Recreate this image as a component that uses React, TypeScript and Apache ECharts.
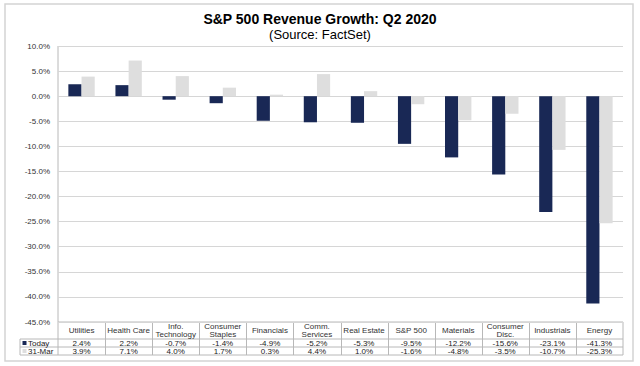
import React, { useEffect, useRef } from "react";
import * as echarts from "echarts";

const categories = [
  "Utilities",
  "Health Care",
  "Info.\nTechnology",
  "Consumer\nStaples",
  "Financials",
  "Comm.\nServices",
  "Real Estate",
  "S&P 500",
  "Materials",
  "Consumer\nDisc.",
  "Industrials",
  "Energy",
];
const todayValues = [2.4, 2.2, -0.7, -1.4, -4.9, -5.2, -5.3, -9.5, -12.2, -15.6, -23.1, -41.3];
const mar31Values = [3.9, 7.1, 4.0, 1.7, 0.3, 4.4, 1.0, -1.6, -4.8, -3.5, -10.7, -25.3];
const seriesNames = ["Today", "31-Mar"];
const titleText = "S&P 500 Revenue Growth: Q2 2020";
const subtitleText = "(Source: FactSet)";

const NAVY = "#192855";
const LIGHT = "#dedede";
const FONT = "Liberation Sans, Arial, sans-serif";
const TABLE_LINE = "#b8b8b8";

export default function App() {
  const ref = useRef<HTMLDivElement>(null);
  useEffect(() => {
    document.body.style.margin = "0";
    if (!ref.current) return;
    const chart = echarts.init(ref.current, undefined, { renderer: "svg" });

    const gl = 58;
    const gr = 17;
    const gt = 46;
    const gb = 322;
    const gw = 640 - gl - gr;
    const colW = gw / categories.length;
    const rowTop = 339;
    const rowH = 8;
    const tableBottom = rowTop + rowH * 2;

    const fmt = (v: number) => v.toFixed(1) + "%";

    const graphics: any[] = [
      {
        type: "rect",
        shape: { x: 5, y: 4, width: 628, height: 357 },
        style: { fill: "none", stroke: "#d4d4d4", lineWidth: 1.5 },
        silent: true,
      },
      {
        type: "line",
        shape: { x1: gl, y1: gt, x2: gl, y2: tableBottom },
        style: { stroke: TABLE_LINE, lineWidth: 1 },
      },
      {
        type: "line",
        shape: { x1: gl + gw, y1: gb, x2: gl + gw, y2: tableBottom },
        style: { stroke: TABLE_LINE, lineWidth: 1 },
      },
      {
        type: "line",
        shape: { x1: 20, y1: rowTop, x2: 20, y2: tableBottom },
        style: { stroke: TABLE_LINE, lineWidth: 1 },
      },
    ];
    for (let r = 0; r <= 2; r++) {
      const y = rowTop + r * rowH;
      graphics.push({
        type: "line",
        shape: { x1: 20, y1: y, x2: gl + gw, y2: y },
        style: { stroke: TABLE_LINE, lineWidth: 1 },
      });
    }
    graphics.push({
      type: "line",
      shape: { x1: gl, y1: gb, x2: gl + gw, y2: gb },
      style: { stroke: TABLE_LINE, lineWidth: 1 },
    });
    for (let k = 1; k < categories.length; k++) {
      const x = Math.round(gl + k * colW) + 0.5;
      graphics.push({
        type: "line",
        shape: { x1: x, y1: gb, x2: x, y2: tableBottom },
        style: { stroke: TABLE_LINE, lineWidth: 1 },
      });
    }
    const colors = [NAVY, LIGHT];
    seriesNames.forEach((name, i) => {
      const cy = rowTop + i * rowH + rowH / 2;
      graphics.push({
        type: "rect",
        shape: { x: 22.5, y: cy - 2, width: 4, height: 4 },
        style: { fill: colors[i] },
      });
      graphics.push({
        type: "text",
        x: 28,
        y: cy,
        style: {
          text: name,
          font: `8px ${FONT}`,
          fill: "#222",
          verticalAlign: "middle",
          align: "left",
        },
      });
    });

    const rowAxis = (vals: number[], margin: number) => ({
      type: "category",
      data: vals.map(fmt),
      position: "bottom",
      gridIndex: 0,
      axisLine: { show: false },
      axisTick: { show: false },
      splitLine: { show: false },
      axisLabel: {
        interval: 0,
        margin,
        verticalAlign: "middle",
        fontSize: 8,
        fontFamily: FONT,
        color: "#222",
      },
    });

    chart.setOption({
      animation: false,
      backgroundColor: "#ffffff",
      title: {
        text: titleText,
        subtext: subtitleText,
        left: "center",
        top: 7,
        itemGap: 2,
        textStyle: { fontSize: 14, fontWeight: "bold", fontFamily: FONT, color: "#000" },
        subtextStyle: { fontSize: 13, fontFamily: FONT, color: "#000" },
      },
      grid: { left: gl, right: gr, top: gt, height: gb - gt, containLabel: false },
      xAxis: [
        {
          type: "category",
          data: categories,
          position: "bottom",
          axisLine: { show: false, onZero: false },
          axisTick: { show: false },
          splitLine: { show: false },
          axisLabel: {
            interval: 0,
            margin: 8.5,
            verticalAlign: "middle",
            fontSize: 8,
            lineHeight: 8,
            fontFamily: FONT,
            color: "#333",
          },
        },
        rowAxis(todayValues, rowTop - gb + rowH / 2),
        rowAxis(mar31Values, rowTop - gb + rowH * 1.5),
      ],
      yAxis: {
        type: "value",
        min: -45,
        max: 10,
        interval: 5,
        axisLine: { show: false },
        axisTick: { show: false },
        splitLine: { show: true, lineStyle: { color: "#d6d6d6", width: 1 } },
        axisLabel: {
          formatter: fmt,
          margin: 8,
          fontSize: 8,
          fontFamily: FONT,
          color: "#333",
        },
      },
      series: [
        {
          name: seriesNames[0],
          type: "bar",
          data: todayValues,
          itemStyle: { color: NAVY },
          barGap: "0%",
          barCategoryGap: "44%",
        },
        {
          name: seriesNames[1],
          type: "bar",
          data: mar31Values,
          itemStyle: { color: LIGHT },
          barGap: "0%",
          barCategoryGap: "44%",
        },
      ],
      graphic: graphics,
    });
    return () => chart.dispose();
  }, []);
  return <div ref={ref} style={{ width: 640, height: 366 }} />;
}
